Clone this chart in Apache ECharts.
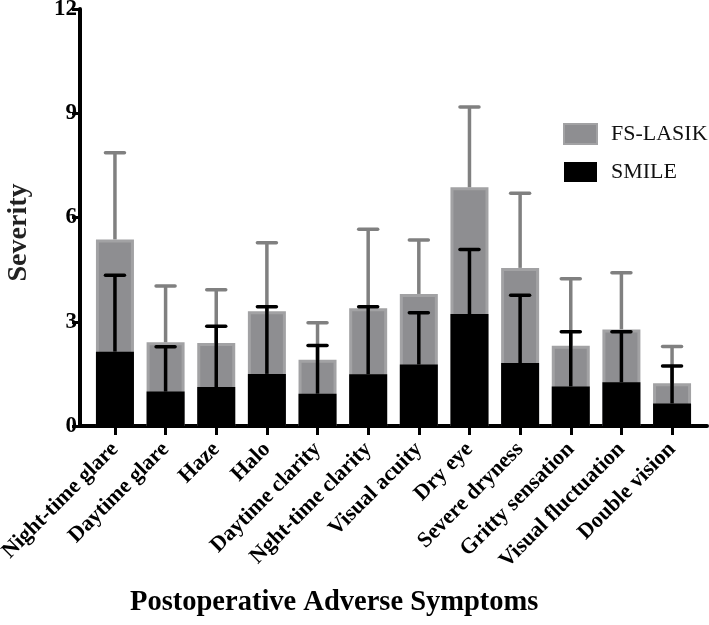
<!DOCTYPE html>
<html>
<head>
<meta charset="utf-8">
<script src="https://cdn.jsdelivr.net/npm/echarts@6/dist/echarts.min.js"></script>
<style>html,body{margin:0;padding:0;background:#fff;}#c{width:709px;height:625px;}</style>
</head>
<body>
<div id="c"></div>
<script>
const categories = ['Night-time glare','Daytime glare','Haze','Halo','Daytime clarity','Nght-time clarity','Visual acuity','Dry eye','Severe dryness','Gritty sensation','Visual fluctuation','Double vision'];
const fsLasikMean = [5.37, 2.41, 2.39, 3.30, 1.91, 3.39, 3.80, 6.87, 4.55, 2.31, 2.78, 1.23];
const fsLasikSD   = [2.49, 1.62, 1.53, 1.97, 1.06, 2.27, 1.55, 2.31, 2.15, 1.93, 1.63, 1.06];
const smileMean   = [2.14, 0.99, 1.12, 1.50, 0.93, 1.49, 1.77, 3.22, 1.81, 1.14, 1.26, 0.65];
const smileSD     = [2.20, 1.29, 1.75, 1.93, 1.39, 1.94, 1.49, 1.86, 1.95, 1.57, 1.45, 1.08];
const yTicks = [0, 3, 6, 9, 12];

const FONT = '"Liberation Serif", "Times New Roman", serif';
const chart = echarts.init(document.getElementById('c'), null, {renderer: 'canvas'});
const idx = categories.map((_, i) => i);

function errSeries(name, mean, sd, color, capW) {
  return {
    type: 'custom',
    name: name + ' err',
    silent: true,
    data: mean.map((m, i) => [i, m, m + sd[i]]),
    encode: {x: 0, y: [1, 2]},
    z: 5,
    renderItem: function (params, api) {
      const i = api.value(0);
      const lo = api.coord([i, api.value(1)]);
      const hi = api.coord([i, api.value(2)]);
      const st = {stroke: color, lineWidth: 3.5, lineCap: 'round'};
      return {
        type: 'group',
        children: [
          {type: 'line', shape: {x1: lo[0], y1: lo[1], x2: hi[0], y2: hi[1]}, style: Object.assign({}, st, {lineCap: 'butt'})},
          {type: 'line', shape: {x1: hi[0] - capW / 2, y1: hi[1], x2: hi[0] + capW / 2, y2: hi[1]}, style: st}
        ]
      };
    }
  };
}

chart.setOption({
  animation: false,
  backgroundColor: '#fff',
  grid: {left: 80, right: 2, top: 9, bottom: 199, containLabel: false, outerBoundsMode: 'none'},
  legend: {
    orient: 'vertical',
    left: 563, top: 123, padding: 0,
    itemWidth: 33, itemHeight: 20, itemGap: 16,
    icon: 'rect',
    data: ['FS-LASIK', 'SMILE'],
    textStyle: {fontFamily: FONT, fontSize: 22, color: '#111', padding: [0, 0, 0, 9]}
  },
  xAxis: {
    type: 'value',
    min: -0.69, max: 11.69,
    splitLine: {show: false},
    axisLine: {show: true, onZero: false, lineStyle: {color: '#000', width: 4}},
    axisTick: {show: true, length: 9, customValues: idx, lineStyle: {color: '#000', width: 3}},
    axisLabel: {
      customValues: idx,
      rotate: 45, margin: 20,
      fontFamily: FONT, fontWeight: 'bold', fontSize: 22, color: '#000',
      formatter: v => categories[Math.round(v)] || ''
    }
  },
  yAxis: {
    type: 'value',
    min: 0, max: 12, interval: 3,
    name: 'Severity',
    nameLocation: 'middle', nameGap: 47, nameMoveOverlap: false,
    nameTextStyle: {fontFamily: FONT, fontWeight: 'bold', fontSize: 28, color: '#222', padding: [0, 30, 0, 0]},
    splitLine: {show: false},
    axisLine: {show: true, onZero: false, lineStyle: {color: '#000', width: 4}},
    axisTick: {show: true, length: 8, lineStyle: {color: '#000', width: 3}},
    axisLabel: {margin: 3, fontFamily: FONT, fontWeight: 'bold', fontSize: 23, color: '#000',
      formatter: v => yTicks.includes(v) ? String(v) : ''}
  },
  graphic: [{
    type: 'text', left: 130, top: 588,
    style: {text: 'Postoperative Adverse Symptoms', font: 'bold 28.5px ' + FONT, fill: '#000'}
  }],
  series: [
    {
      type: 'bar', name: 'FS-LASIK',
      data: fsLasikMean.map((v, i) => [i, v]),
      barWidth: 38, barGap: '-100%',
      itemStyle: {color: '#8e8e91', borderColor: '#a2a2a4', borderWidth: 3},
      z: 2
    },
    {
      type: 'bar', name: 'SMILE',
      data: smileMean.map((v, i) => [i, v]),
      barWidth: 38, barGap: '-100%',
      itemStyle: {color: '#000'},
      z: 3
    },
    errSeries('FS-LASIK', fsLasikMean, fsLasikSD, '#808080', 19),
    errSeries('SMILE', smileMean, smileSD, '#000', 19)
  ]
});
</script>
</body>
</html>
